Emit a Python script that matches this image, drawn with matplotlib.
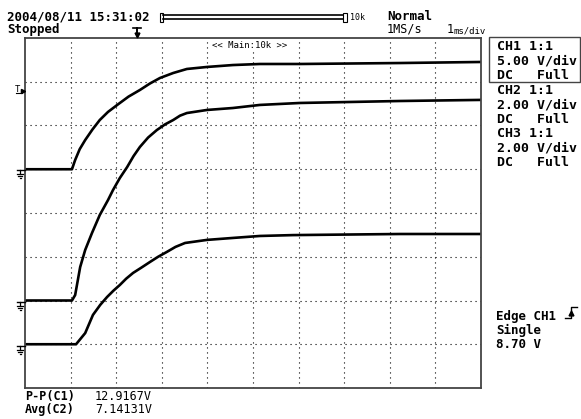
import matplotlib
matplotlib.use("Agg")
import matplotlib.pyplot as plt
from matplotlib.patches import Rectangle

# time axis in ms, values in volts
ch1_t = [0.0, 1.03, 1.10, 1.20, 1.32, 1.48, 1.64, 1.82, 2.02, 2.27, 2.52, 2.74, 2.96, 3.25,
         3.55, 3.99, 4.56, 5.15, 6.03, 8.22, 10.0]
ch1_v = [0.0, 0.0, 1.06, 2.30, 3.34, 4.55, 5.63, 6.55, 7.34, 8.30, 9.06, 9.80, 10.43, 11.0,
         11.46, 11.69, 11.91, 12.03, 12.03, 12.14, 12.26]

ch2_t = [0.0, 1.03, 1.10, 1.21, 1.32, 1.47, 1.64, 1.82, 1.93, 2.08, 2.24, 2.38, 2.52, 2.70,
         2.89, 3.07, 3.25, 3.40, 3.55, 3.99, 4.56, 5.15, 6.03, 8.22, 10.0]
ch2_v = [0.0, 0.0, 0.25, 1.53, 2.31, 3.09, 3.91, 4.59, 5.05, 5.60, 6.10, 6.60, 7.02, 7.45,
         7.79, 8.05, 8.25, 8.45, 8.57, 8.71, 8.80, 8.94, 9.03, 9.12, 9.17]

ch3_t = [0.0, 1.12, 1.32, 1.49, 1.65, 1.80, 1.94, 2.08, 2.22, 2.37, 2.55, 2.74, 2.92, 3.11,
         3.30, 3.51, 3.99, 4.56, 5.15, 5.88, 8.22, 10.0]
ch3_v = [0.0, 0.0, 0.51, 1.34, 1.80, 2.16, 2.45, 2.71, 3.00, 3.26, 3.50, 3.76, 4.00, 4.22,
         4.45, 4.63, 4.77, 4.86, 4.95, 4.99, 5.04, 5.04]

# volts/div and ground position (divisions from bottom) per channel
channels = [
    (ch1_t, ch1_v, 5.0, 5.0),
    (ch2_t, ch2_v, 2.0, 2.0),
    (ch3_t, ch3_v, 2.0, 1.0),
]

ch_info = ["CH1 1:1", "5.00 V/div", "DC   Full",
           "CH2 1:1", "2.00 V/div", "DC   Full",
           "CH3 1:1", "2.00 V/div", "DC   Full"]
meas_names = ["P-P(C1)", "Avg(C2)"]
meas_vals = ["12.9167V", "7.14131V"]

W, H = 581, 419
fig = plt.figure(figsize=(W / 100, H / 100), dpi=100)
fig.patch.set_facecolor("white")

# plot area in pixels
L, T, R, B = 25, 38, 481, 388
ax = fig.add_axes([L / W, 1 - B / H, (R - L) / W, (B - T) / H])
ax.set_xlim(0, 10)
ax.set_ylim(0, 8)
ax.set_xticks(range(1, 10))
ax.set_yticks(range(1, 8))
ax.tick_params(length=0, labelbottom=False, labelleft=False)
ax.grid(True, color="black", linestyle=(0, (1, 3.5)), linewidth=0.8)
for s in ax.spines.values():
    s.set_color("#444444")
    s.set_linewidth(1.3)

for t, v, vdiv, gnd in channels:
    ax.plot(t, [gnd + x / vdiv for x in v], color="black", lw=1.9, solid_joinstyle="round")

# overlay in pixel coordinates for the screen furniture
ov = fig.add_axes([0, 0, 1, 1], zorder=5)
ov.set_xlim(0, W)
ov.set_ylim(H, 0)
ov.axis("off")

mono = "DejaVu Sans Mono"
ov.text(7, 20, "2004/08/11 15:31:02", family=mono, fontsize=9, weight="bold", va="baseline")
ov.text(7, 33, "Stopped", family=mono, fontsize=9, weight="bold", va="baseline")
ov.text(387, 20, "Normal", family=mono, fontsize=9, weight="bold", va="baseline")
ov.text(387, 33, "1MS/s", family=mono, fontsize=8.5, va="baseline")
ov.text(447, 33, "1", family=mono, fontsize=8.5, va="baseline")
ov.text(454, 33, "ms/div", family=mono, fontsize=6.5, va="baseline")

# zoom position bar
ov.add_patch(Rectangle((160, 13), 3, 9, fill=False, ec="black", lw=0.8))
ov.add_patch(Rectangle((343, 13), 4, 9, fill=False, ec="black", lw=0.8))
ov.plot([163, 343], [15.5, 15.5], color="black", lw=1.2)
ov.plot([163, 343], [19.5, 19.5], color="black", lw=1.2)
ov.text(350, 17.5, "10k", family=mono, fontsize=6, va="center")

# trigger position marker
ov.plot([133, 141], [28, 28], color="black", lw=1.2)
ov.plot([137, 137], [28, 35], color="black", lw=1.4)
ov.plot([137], [35], marker="v", color="black", ms=3.5)

ov.text(250, 46, "<< Main:10k >>", family=mono, fontsize=6.5, ha="center", va="center",
        bbox=dict(fc="white", ec="none", pad=0.5))

# trigger level marker and ground symbols
ov.text(15, 92, "T", family=mono, fontsize=6.5, va="baseline")
ov.plot([16, 22], [93, 93], color="black", lw=0.8)
ov.plot([23], [91], marker=">", color="black", ms=3)
for gy in [170, 302, 346]:
    ov.plot([17, 25], [gy, gy], color="black", lw=1.0)
    ov.plot([20, 20], [gy, gy + 4], color="black", lw=0.9)
    ov.plot([17, 23], [gy + 4, gy + 4], color="black", lw=0.9)
    ov.plot([18, 22], [gy + 6, gy + 6], color="black", lw=0.9)
    ov.plot([19.5, 20.5], [gy + 8, gy + 8], color="black", lw=0.9)

# channel settings panel
for i, line in enumerate(ch_info):
    ov.text(497, 50 + i * 14.5, line, family=mono, fontsize=9.5, weight="bold", va="baseline")
ov.add_patch(Rectangle((489, 37), 91, 45, fill=False, ec="#444444", lw=1.0))

ov.text(496, 320, "Edge CH1", family=mono, fontsize=9, weight="bold", va="baseline")
ov.text(496, 334, "Single", family=mono, fontsize=9, weight="bold", va="baseline")
ov.text(496, 348, "8.70 V", family=mono, fontsize=9, weight="bold", va="baseline")
ov.plot([565, 571, 571, 577], [318, 318, 307, 307], color="black", lw=1.0)
ov.plot([571], [313], marker="^", color="black", ms=3.5)

# measurements
for i, (n, v) in enumerate(zip(meas_names, meas_vals)):
    y = 400 + i * 13
    ov.text(25, y, n, family=mono, fontsize=8.5, weight="bold", va="baseline")
    ov.text(152, y, v, family=mono, fontsize=8.5, ha="right", va="baseline")

fig.savefig("out.png", dpi=100, facecolor="white")
